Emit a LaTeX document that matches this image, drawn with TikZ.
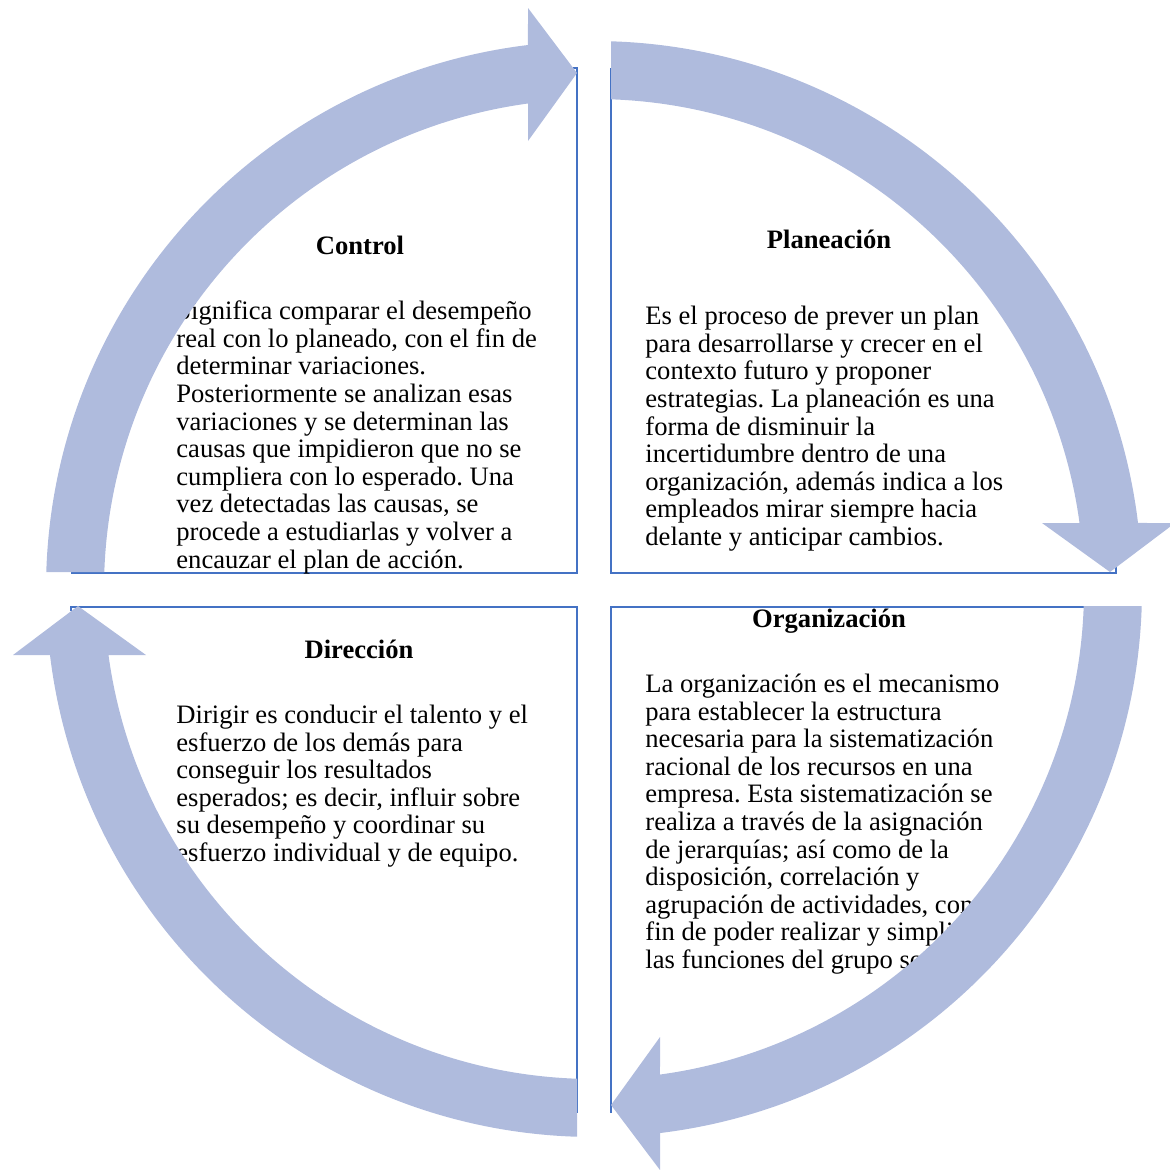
\documentclass[tikz,border=0pt]{standalone}
\usepackage{fontspec}
\setmainfont{Liberation Serif}
\usetikzlibrary{positioning}
\frenchspacing
\definecolor{ringblue}{RGB}{175,187,221}
\definecolor{boxblue}{RGB}{68,114,196}
\tikzset{
quad/.style={minimum size=252.75pt, inner sep=0pt, outer sep=0pt}, % the four square panels
frame/.style={draw=boxblue, line width=1pt}, % the two inner sides of each panel
head/.style={font=\bfseries\fontsize{13.3}{13.8}\selectfont, inner sep=0pt, anchor=base}, % bold panel titles
body/.style={font=\fontsize{13.3}{13.8}\selectfont, align=left, inner sep=0pt, anchor=base west}, % panel texts, placed by their last line
ring/.style={fill=ringblue, draw=none}, % the curved arrows of the cycle
}

\begin{document}
\begin{tikzpicture}[x=0.5pt, y=-0.5pt]
                \useasboundingbox (0,0) rectangle (1170,1169);
                \node[quad] (q1) at (324,320.5) {};
                \node[quad, right=17pt of q1] (q2) {};
                \node[quad, below=17pt of q1] (q3) {};
                \node[quad, below=17pt of q2] (q4) {};
                \draw[frame] (q1.south west) -- (q1.south east) -- (q1.north east) -- ++(-4,0);
                \draw[frame] (q2.north west) -- (q2.south west) -- (q2.south east) -- ++(0,-8);
                \draw[frame] (q3.south east) -- (q3.north east) -- (q3.north west) -- ++(0,4);
                \draw[frame] (q4.north east) -- (q4.north west) -- (q4.south west);
                \node[head] (ctrl) at (360,254) {Control};
                \node[head] (plan) at (829,248) {Planeación};
                \node[head] (dir) at (359,658) {Dirección};
                \node[head] (org) at (829,627) {Organización};
                \node[body] (ctrltxt) at (176,568) {Significa comparar el desempeño\\
                    real con lo planeado, con el fin de\\
                    determinar variaciones.\\
                    Posteriormente se analizan esas\\
                    variaciones y se determinan las\\
                    causas que impidieron que no se\\
                    cumpliera con lo esperado. Una\\
                    vez detectadas las causas, se\\
                    procede a estudiarlas y volver a\\
                    encauzar el plan de acción.};
                \node[body] (plantxt) at (645,545.5) {Es el proceso de prever un plan\\
                    para desarrollarse y crecer en el\\
                    contexto futuro y proponer\\
                    estrategias. La planeación es una\\
                    forma de disminuir la\\
                    incertidumbre dentro de una\\
                    organización, además indica a los\\
                    empleados mirar siempre hacia\\
                    delante y anticipar cambios.};
                \node[body] (dirtxt) at (176,861.5) {Dirigir es conducir el talento y el\\
                    esfuerzo de los demás para\\
                    conseguir los resultados\\
                    esperados; es decir, influir sobre\\
                    su desempeño y coordinar su\\
                    esfuerzo individual y de equipo.};
                \node[body] (orgtxt) at (645,968.5) {La organización es el mecanismo\\
                    para establecer la estructura\\
                    necesaria para la sistematización\\
                    racional de los recursos en una\\
                    empresa. Esta sistematización se\\
                    realiza a través de la asignación\\
                    de jerarquías; así como de la\\
                    disposición, correlación y\\
                    agrupación de actividades, con el\\
                    fin de poder realizar y simplificar\\
                    las funciones del grupo social.};
                % one arrow per quarter, turned clockwise
                \foreach \r in {0,-90,-180,-270}
                    \fill[ring, shift={(594,589)}, rotate=\r]
                        (181.78:548) arc[start angle=181.78, end angle=263.08, radius=548]
                        -- (-66,-581) -- (-17,-516) -- (-66,-448)
                        -- (262.26:490) arc[start angle=262.26, end angle=181.99, radius=490]
                        -- cycle;
                \end{tikzpicture}
\end{document}
